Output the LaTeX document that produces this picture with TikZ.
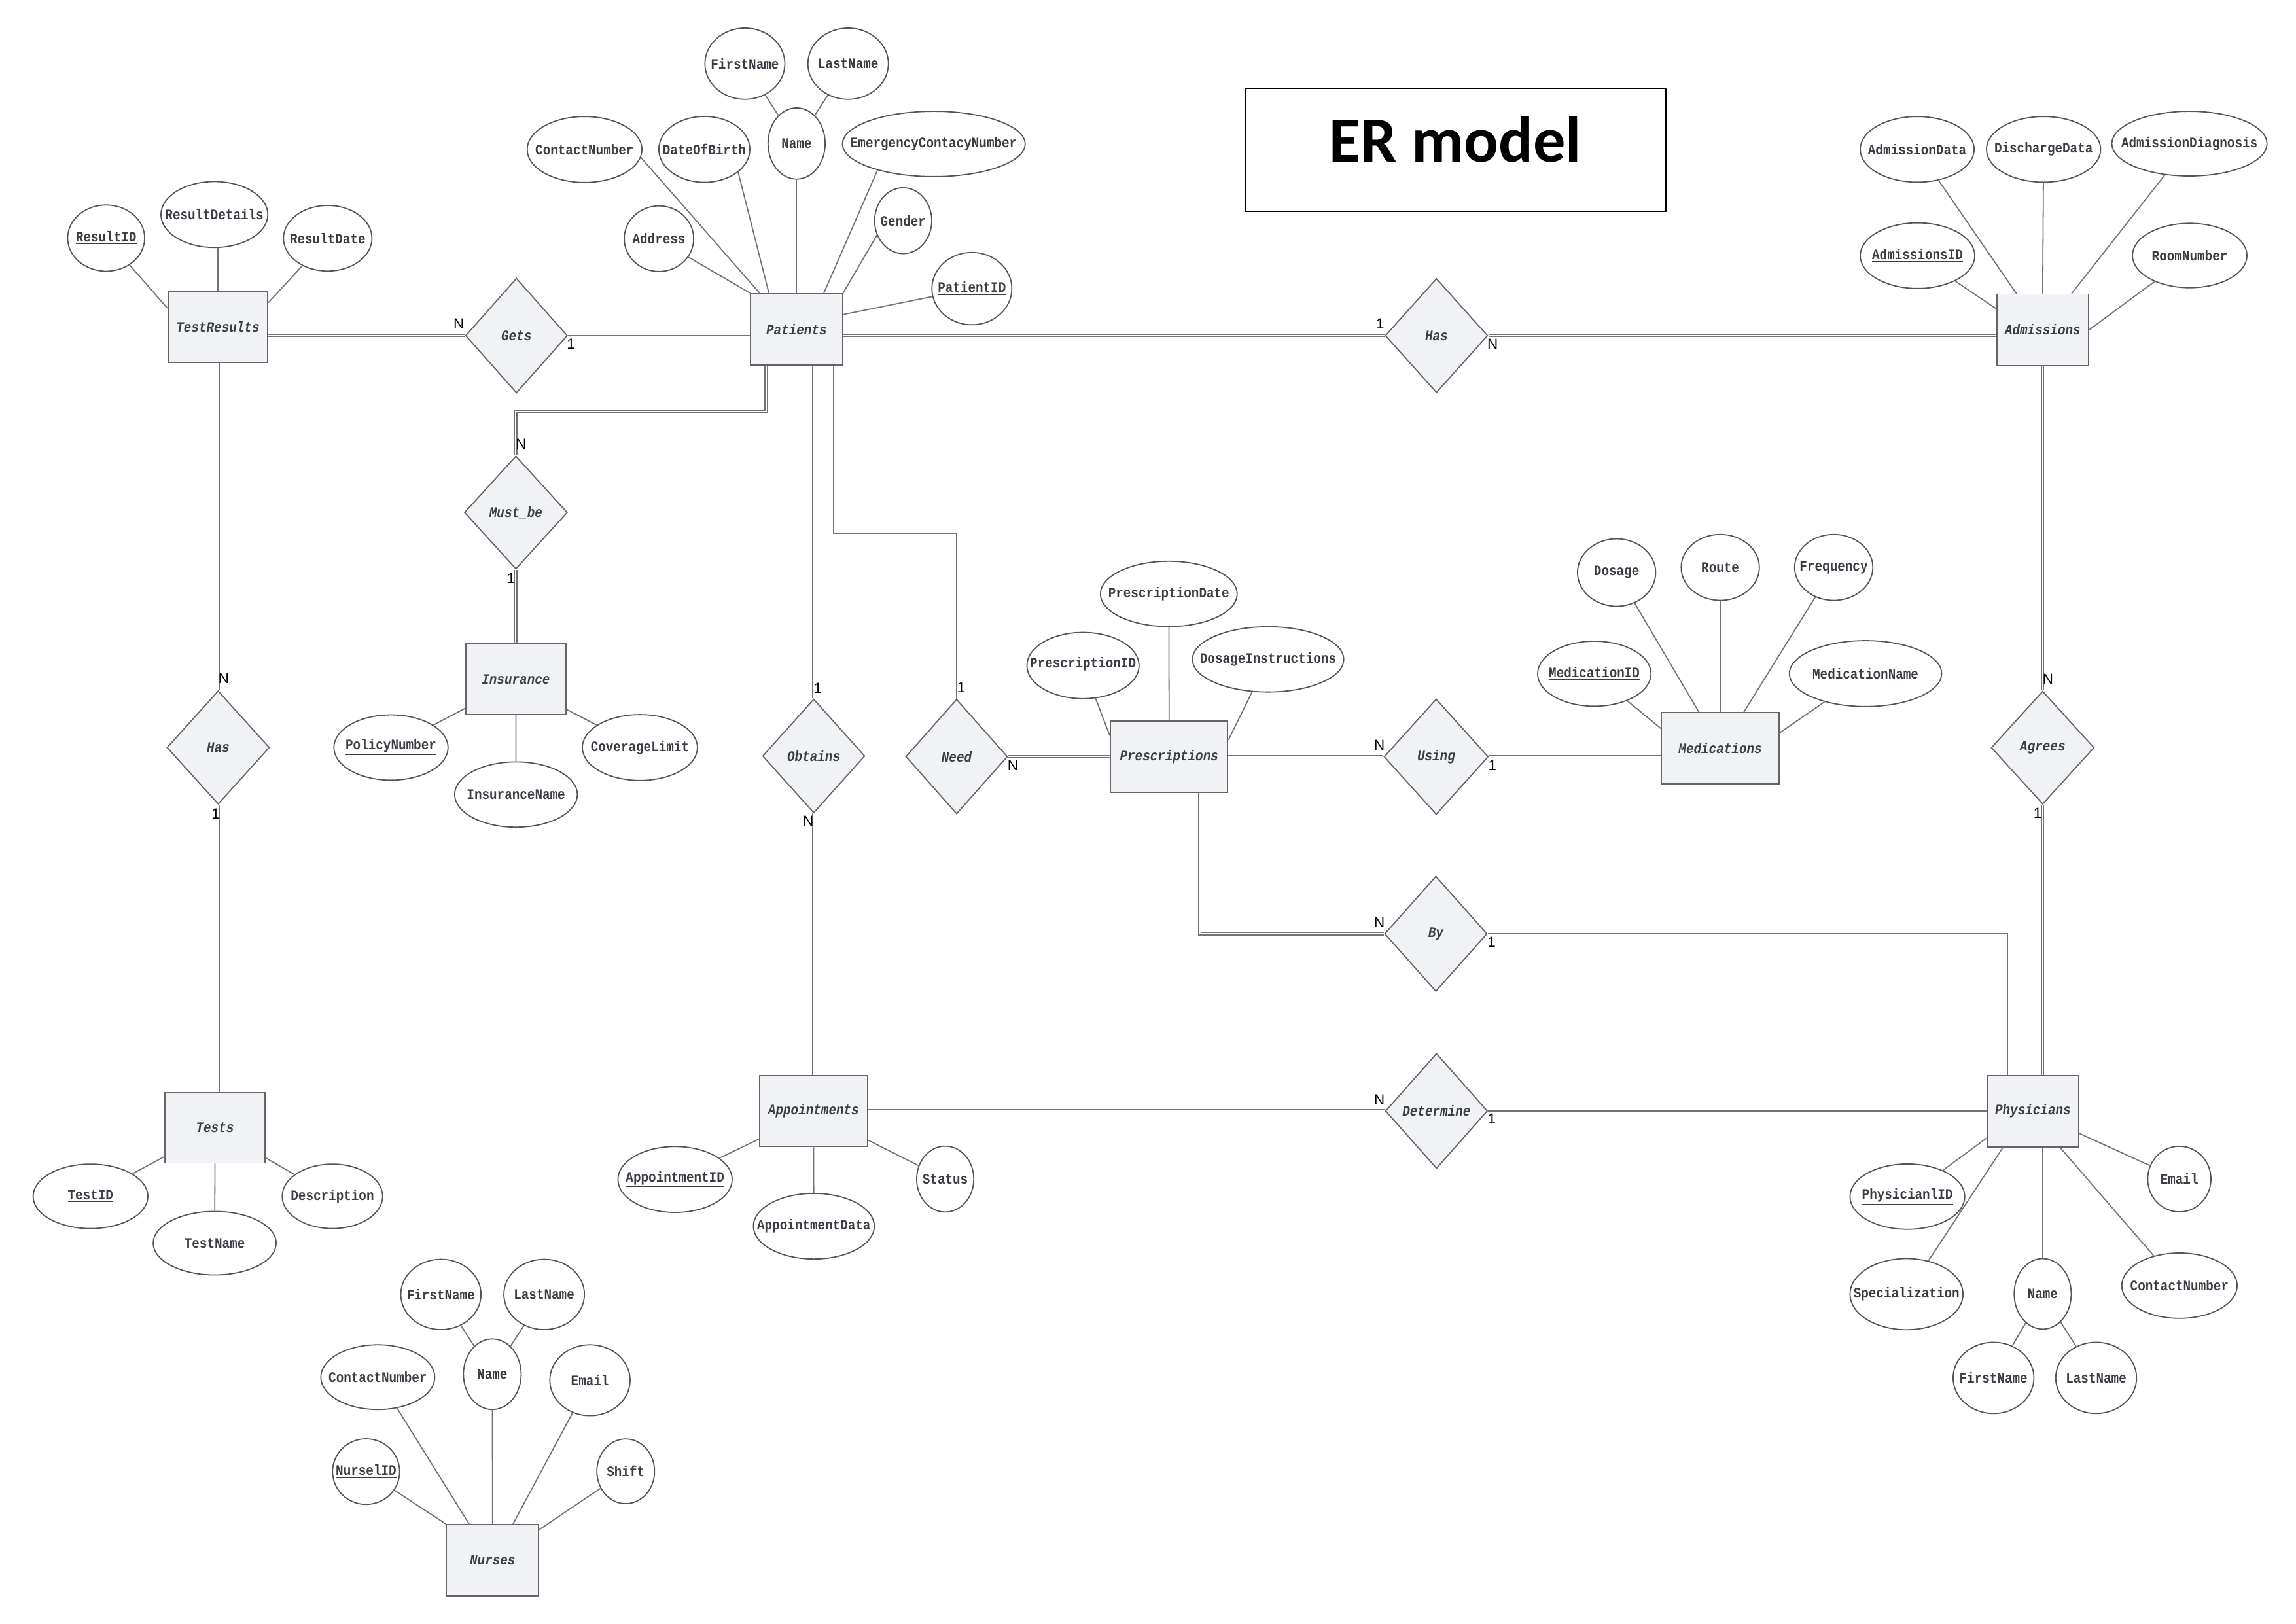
\documentclass[tikz,border=0pt]{standalone}
\usepackage{fontspec}
\usetikzlibrary{shapes.geometric,calc}
\newfontfamily\attrfont[FakeStretch=0.87]{Liberation Mono}
\newfontfamily\cardfont{Liberation Sans}
\newfontfamily\titlefont{Carlito}
\definecolor{entfill}{RGB}{241,242,245}
\definecolor{shapeline}{RGB}{100,100,100}
\definecolor{ellline}{RGB}{85,85,85}
\definecolor{connc}{RGB}{115,115,115}
\definecolor{txt}{RGB}{58,61,68}
\newcommand\attrtext{\attrfont\fontsize{9.9}{11}\selectfont\bfseries}
\newcommand\attbox[1]{\makebox[0pt]{#1}}
\begin{document}
\begin{tikzpicture}[x=1pt,y=-1pt,
 ent/.style 2 args={rectangle, draw=shapeline, fill=entfill, line width=0.8pt, inner sep=0pt, minimum width=#1, minimum height=#2, font=\attrtext\itshape, text=txt},
 rel/.style 2 args={diamond, draw=shapeline, fill=entfill, line width=0.8pt, inner sep=0pt, minimum width=#1, minimum height=#2, font=\attrtext\itshape, text=txt},
 attr/.style 2 args={ellipse, draw=ellline, fill=white, line width=0.8pt, inner sep=0pt, minimum width=#1, minimum height=#2, font=\attrtext, text=txt},
 conn/.style={draw=connc, line width=0.8pt},
 dbl/.style={draw=connc, line width=0.65pt, double=white, double distance=0.9pt},
 card/.style={font=\cardfont\fontsize{10}{12}\selectfont, text=black, inner sep=0pt},
]
\fill[white] (0,0) rectangle (1568,1109);
\useasboundingbox (0,0) rectangle (1568,1109);

% Title
\node[draw=black, line width=1pt, minimum width=287.2pt, minimum height=84pt, inner sep=0pt] (titlebox) at (994,102.3) {};
\node[anchor=base, inner sep=0pt, font=\titlefont\fontsize{44}{50}\selectfont\bfseries] (titletext) at (994,110.7) {ER model};

% Entities
\node[ent={68.2pt}{48.7pt}] (TestResults) at (148.8,223.3) {TestResults};
\node[ent={62.6pt}{48.8pt}] (Patients) at (544,225) {Patients};
\node[ent={62.7pt}{48.7pt}] (Admissions) at (1395,225.2) {Admissions};
\node[ent={68.2pt}{48.2pt}] (Insurance) at (352.3,463.9) {Insurance};
\node[ent={80.2pt}{48.7pt}] (Prescriptions) at (798.4,516.7) {Prescriptions};
\node[ent={80.5pt}{48.6pt}] (Medications) at (1174.8,510.9) {Medications};
\node[ent={68.3pt}{48.2pt}] (Tests) at (146.8,770.2) {Tests};
\node[ent={74.1pt}{48.5pt}] (Appointments) at (555.6,758.8) {Appointments};
\node[ent={62.8pt}{48.7pt}] (Physicians) at (1388.3,758.8) {Physicians};
\node[ent={62.8pt}{48.5pt}] (Nurses) at (336.4,1065.5) {Nurses};

% Relationships
\node[rel={69.6pt}{78.4pt}] (Gets) at (352.7,229.2) {Gets};
\node[rel={70pt}{78pt}] (HasT) at (981,229.2) {Has};
\node[rel={70.3pt}{77.2pt}] (Mustbe) at (352.3,350) {Must\_be};
\node[rel={69.8pt}{77.8pt}] (Obtains) at (555.7,516.3) {Obtains};
\node[rel={69.5pt}{78.3pt}] (Need) at (653.3,516.7) {Need};
\node[rel={71.2pt}{78.9pt}] (Using) at (980.8,516.8) {Using};
\node[rel={70pt}{77.4pt}] (HasL) at (149,510.5) {Has};
\node[rel={70.3pt}{77.2pt}] (Agrees) at (1395,510.6) {Agrees};
\node[rel={70pt}{78.7pt}] (By) at (980.6,637.7) {By};
\node[rel={69.6pt}{78.6pt}] (Determine) at (981,758.7) {Determine};

% Attributes: TestResults
\node[attr={52.6pt}{45.2pt}] (rID) at (72.5,162.6) {\attbox{\underline{ResultID}}};
\node[attr={73pt}{45pt}] (rDet) at (146.4,146.5) {\attbox{ResultDetails}};
\node[attr={60.4pt}{44.8pt}] (rDate) at (223.8,162.7) {\attbox{ResultDate}};

% Attributes: Patients
\node[attr={54.6pt}{48.6pt}] (pFirst) at (508.7,43.5) {\attbox{FirstName}};
\node[attr={55pt}{48.6pt}] (pLast) at (579.2,43.5) {\attbox{LastName}};
\node[attr={39pt}{48.6pt}] (pName) at (544,98) {\attbox{Name}};
\node[attr={78.4pt}{45pt}] (pContact) at (399.2,102.1) {\attbox{ContactNumber}};
\node[attr={62.2pt}{45pt}] (pDOB) at (481,102) {\attbox{DateOfBirth}};
\node[attr={124.8pt}{44.6pt}] (pEmerg) at (637.7,98.3) {\attbox{EmergencyContacyNumber}};
\node[attr={47.4pt}{44.8pt}] (pAddr) at (450,163) {\attbox{Address}};
\node[attr={39pt}{45pt}] (pGender) at (616.8,150.7) {\attbox{Gender}};
\node[attr={54.6pt}{49.4pt}] (pID) at (663.7,197.1) {\attbox{\underline{PatientID}}};

% Attributes: Admissions
\node[attr={77.8pt}{44.8pt}] (aData) at (1309.3,102) {\attbox{AdmissionData}};
\node[attr={78pt}{44.8pt}] (aDis) at (1395.6,102) {\attbox{DischargeData}};
\node[attr={106pt}{44.2pt}] (aDiag) at (1495.2,98.1) {\attbox{AdmissionDiagnosis}};
\node[attr={78.2pt}{44.8pt}] (aID) at (1309.5,174.6) {\attbox{\underline{AdmissionsID}}};
\node[attr={78.2pt}{44pt}] (aRoom) at (1495.4,174.5) {\attbox{RoomNumber}};

% Attributes: Prescriptions
\node[attr={93.4pt}{44.6pt}] (prDate) at (798.2,405.6) {\attbox{PrescriptionDate}};
\node[attr={76.6pt}{45.2pt}] (prID) at (739.6,454.5) {\attbox{\underline{PrescriptionID}}};
\node[attr={103.4pt}{44.6pt}] (prDos) at (866,450.3) {\attbox{DosageInstructions}};

% Attributes: Medications
\node[attr={53.4pt}{46pt}] (mDos) at (1104,391) {\attbox{Dosage}};
\node[attr={53.4pt}{45pt}] (mRoute) at (1174.8,387.5) {\attbox{Route}};
\node[attr={53.4pt}{45pt}] (mFreq) at (1252.3,387.5) {\attbox{Frequency}};
\node[attr={77.4pt}{44.4pt}] (mID) at (1088.8,460.1) {\attbox{\underline{MedicationID}}};
\node[attr={104pt}{45pt}] (mName) at (1274,460) {\attbox{MedicationName}};

% Attributes: Insurance
\node[attr={78pt}{44.6pt}] (iPol) at (267,510.5) {\attbox{\underline{PolicyNumber}}};
\node[attr={83.8pt}{44.6pt}] (iName) at (352.4,542.6) {\attbox{InsuranceName}};
\node[attr={78.6pt}{45pt}] (iCov) at (437,510.5) {\attbox{CoverageLimit}};

% Attributes: Tests
\node[attr={78.4pt}{44pt}] (tID) at (61.8,817) {\attbox{\underline{TestID}}};
\node[attr={84pt}{43.4pt}] (tName) at (146.6,849) {\attbox{TestName}};
\node[attr={68.6pt}{44pt}] (tDesc) at (227,817) {\attbox{Description}};

% Attributes: Appointments
\node[attr={78pt}{45pt}] (apID) at (461,805.5) {\attbox{\underline{AppointmentID}}};
\node[attr={82.6pt}{44.8pt}] (apData) at (555.8,837.4) {\attbox{AppointmentData}};
\node[attr={39pt}{45pt}] (apStat) at (645.5,805.2) {\attbox{Status}};

% Attributes: Physicians
\node[attr={78.4pt}{44.6pt}] (phID) at (1302.6,817.2) {\attbox{\underline{PhysicianlID}}};
\node[attr={43.2pt}{44.8pt}] (phEmail) at (1488.3,805.2) {\attbox{Email}};
\node[attr={77.2pt}{48.6pt}] (phSpec) at (1302,883.8) {\attbox{Specialization}};
\node[attr={39pt}{48.2pt}] (phName) at (1395,883.6) {\attbox{Name}};
\node[attr={78.8pt}{44.6pt}] (phCont) at (1488.4,878) {\attbox{ContactNumber}};
\node[attr={55.2pt}{48.6pt}] (phFirst) at (1361.4,941) {\attbox{FirstName}};
\node[attr={55.2pt}{48.6pt}] (phLast) at (1431.5,941) {\attbox{LastName}};

% Attributes: Nurses
\node[attr={54.8pt}{48pt}] (nFirst) at (301.1,884) {\attbox{FirstName}};
\node[attr={55pt}{48pt}] (nLast) at (371.6,884) {\attbox{LastName}};
\node[attr={39.4pt}{48.2pt}] (nName) at (336.2,938.5) {\attbox{Name}};
\node[attr={77.8pt}{44.2pt}] (nCont) at (258,940.5) {\attbox{ContactNumber}};
\node[attr={54.8pt}{48.4pt}] (nEmail) at (402.9,942.6) {\attbox{Email}};
\node[attr={45.8pt}{44.8pt}] (nID) at (250,1005) {\attbox{\underline{NurselID}}};
\node[attr={39.4pt}{44.2pt}] (nShift) at (427.3,1004.8) {\attbox{Shift}};

% Attribute connectors
\draw[conn] (rID) -- ([yshift=-11.9pt]TestResults.north west);
\draw[conn] (TestResults.north) -- (TestResults.north |- rDet.south);
\draw[conn] (rDate) -- ([yshift=-8.1pt]TestResults.north east);

\draw[conn] (pAddr.-32) -- (Patients.north west);
\draw[conn] (pContact.-8) -- ([xshift=6.5pt]Patients.north west);
\draw[conn] (pDOB.-34) -- ([xshift=12.8pt]Patients.north west);
\draw[conn] (pName) -- (Patients.north);
\draw[conn] (pEmerg.205) -- ([xshift=-13.1pt]Patients.north east);
\draw[conn] (pGender.209) -- (Patients.north east);
\draw[conn] (pID) -- ([yshift=-14.6pt]Patients.north east);
\draw[conn] (pName) -- (pFirst);
\draw[conn] (pName) -- (pLast);

\draw[conn] (aID) -- ([yshift=-10.4pt]Admissions.north west);
\draw[conn] (aData) -- ([xshift=13.8pt]Admissions.north west);
\draw[conn] (aDis) -- (Admissions.north);
\draw[conn] (aDiag) -- ([xshift=-12pt]Admissions.north east);
\draw[conn] (aRoom) -- (Admissions.east);

\draw[conn] (prID) -- ([yshift=-10.4pt]Prescriptions.north west);
\draw[conn] (prDate) -- (Prescriptions.north);
\draw[conn] (prDos) -- ([yshift=-13.4pt]Prescriptions.north east);

\draw[conn] (mID) -- ([yshift=-11.2pt]Medications.north west);
\draw[conn] (mDos) -- ([xshift=26pt]Medications.north west);
\draw[conn] (mRoute) -- (Medications.north);
\draw[conn] (mFreq) -- ([xshift=-24.5pt]Medications.north east);
\draw[conn] (mName) -- ([yshift=-14.2pt]Medications.north east);

\draw[conn] (iPol) -- ([yshift=4.8pt]Insurance.south west);
\draw[conn] (iName) -- (Insurance.south);
\draw[conn] (iCov) -- ([yshift=4pt]Insurance.south east);

\draw[conn] (tID) -- ([yshift=4.8pt]Tests.south west);
\draw[conn] (tName) -- (Tests.south);
\draw[conn] (tDesc) -- ([yshift=4pt]Tests.south east);

\draw[conn] (apID) -- ([yshift=5.5pt]Appointments.south west);
\draw[conn] (apData) -- (Appointments.south);
\draw[conn] (apStat) -- ([yshift=4.7pt]Appointments.south east);

\draw[conn] (phID) -- ([yshift=6.2pt]Physicians.south west);
\draw[conn] (phSpec) -- ([xshift=11.4pt]Physicians.south west);
\draw[conn] (phName) -- (phName |- Physicians.south);
\draw[conn] (phCont) -- ([xshift=-13.3pt]Physicians.south east);
\draw[conn] (phEmail) -- ([yshift=9.5pt]Physicians.south east);
\draw[conn] (phName) -- (phFirst);
\draw[conn] (phName) -- (phLast);

\draw[conn] (nID) -- (Nurses.north west);
\draw[conn] (nCont) -- ([xshift=15.8pt]Nurses.north west);
\draw[conn] (nName) -- (Nurses.north);
\draw[conn] (nEmail) -- ([xshift=-17.9pt]Nurses.north east);
\draw[conn] (nShift) -- ([yshift=-3.8pt]Nurses.north east);
\draw[conn] (nName) -- (nFirst);
\draw[conn] (nName) -- (nLast);

% Relationship connectors
\draw[dbl] (TestResults.east |- Gets.west) -- (Gets.west);
\draw[conn] (Gets.east) -- (Patients.west |- Gets.east);
\draw[dbl] (Patients.east |- HasT.west) -- (HasT.west);
\draw[dbl] (HasT.east) -- (Admissions.west |- HasT.east);
\draw[dbl] (Admissions.south) -- (Agrees.north);
\draw[dbl] (Agrees.south) -- (Agrees.south |- Physicians.north);
\draw[conn] (By.east) -| ([xshift=14.5pt]Physicians.north west);
\draw[dbl] ([xshift=-19.5pt]Prescriptions.south east) |- (By.west);
\draw[dbl] (Need.east) -- (Prescriptions.west |- Need.east);
\draw[dbl] (Prescriptions.east |- Using.west) -- (Using.west);
\draw[dbl] (Using.east) -- (Medications.west |- Using.east);
\draw[dbl] ([xshift=10.9pt]Patients.south west) -- ++(0,31.2) -| (Mustbe.north);
\draw[dbl] (Mustbe.south) -- (Insurance.north);
\draw[dbl] (Obtains.north |- Patients.south) -- (Obtains.north);
\draw[dbl] (Obtains.south) -- (Obtains.south |- Appointments.north);
\draw[conn] ([xshift=-6.6pt]Patients.south east) -- ++(0,114.2) -| (Need.north);
\draw[dbl] (Appointments.east |- Determine.west) -- (Determine.west);
\draw[conn] (Determine.east) -- (Physicians.west |- Determine.east);
\draw[dbl] (HasL.north |- TestResults.south) -- (HasL.north);
\draw[dbl] (HasL.south) -- (HasL.south |- Tests.north);

% Cardinalities
\node[card] (cGetsN) at ([xshift=-4.2pt,yshift=8.2pt]Gets.west) {N};
\node[card] (cGets1) at ([xshift=2pt,yshift=-5.7pt]Gets.east) {1};
\node[card] (cHasT1) at ([xshift=-3pt,yshift=8.2pt]HasT.west) {1};
\node[card] (cHasTN) at ([xshift=3pt,yshift=-5.8pt]HasT.east) {N};
\node[card] (cAgrN) at ([xshift=3.6pt,yshift=8pt]Agrees.north) {N};
\node[card] (cAgr1) at ([xshift=-3.5pt,yshift=-5.8pt]Agrees.south) {1};
\node[card] (cMustN) at ([xshift=3.6pt,yshift=7.9pt]Mustbe.north) {N};
\node[card] (cMust1) at ([xshift=-3.3pt,yshift=-5.7pt]Mustbe.south) {1};
\node[card] (cObt1) at ([xshift=2.8pt,yshift=7pt]Obtains.north) {1};
\node[card] (cObtN) at ([xshift=-3.7pt,yshift=-5pt]Obtains.south) {N};
\node[card] (cNeed1) at ([xshift=3.2pt,yshift=7.4pt]Need.north) {1};
\node[card] (cNeedN) at ([xshift=3.2pt,yshift=-6.1pt]Need.east) {N};
\node[card] (cUsN) at ([xshift=-2.8pt,yshift=8.1pt]Using.west) {N};
\node[card] (cUs1) at ([xshift=2.4pt,yshift=-6pt]Using.east) {1};
\node[card] (cByN) at ([xshift=-3.2pt,yshift=7.7pt]By.west) {N};
\node[card] (cBy1) at ([xshift=2.6pt,yshift=-5.5pt]By.east) {1};
\node[card] (cDetN) at ([xshift=-3.8pt,yshift=7.7pt]Determine.west) {N};
\node[card] (cDet1) at ([xshift=2.6pt,yshift=-5.4pt]Determine.east) {1};
\node[card] (cHasLN) at ([xshift=3.8pt,yshift=8.1pt]HasL.north) {N};
\node[card] (cHasL1) at ([xshift=-1.7pt,yshift=-6pt]HasL.south) {1};
\end{tikzpicture}
\end{document}
